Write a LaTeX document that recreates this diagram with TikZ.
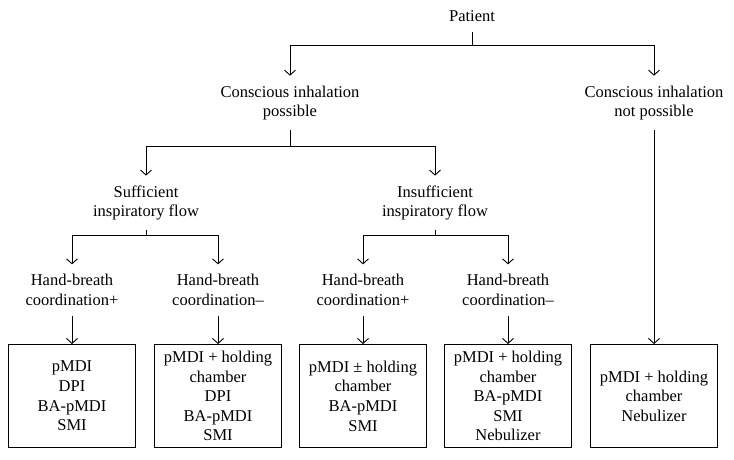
\documentclass[tikz,border=0pt]{standalone}
\usepackage{fontspec}
\setmainfont{Liberation Serif}
\usetikzlibrary{arrows.meta}
\begin{document}
\begin{tikzpicture}[x=1pt,y=-1pt,
  every node/.style={font=\fontsize{16.5}{19.6}\selectfont},
  lbl/.style={align=center, inner sep=0pt, outer ysep=10pt},
  res/.style={draw, line width=0.9pt, align=center, minimum width=127pt, minimum height=103pt, inner sep=1pt},
  conn/.style={line width=0.9pt},
  arr/.style={conn, -{Straight Barb[length=5pt,width=11pt,line width=0.9pt]}}]
\useasboundingbox (0,0) rectangle (734,460);
% labels
\node[lbl] (pat) at (472,16) {Patient};
\node[lbl] (cip) at (290,103) {Conscious inhalation\\possible};
\node[lbl] (cinp) at (654,103) {Conscious inhalation\\not possible};
\node[lbl] (suf) at (146,203) {Sufficient\\inspiratory flow};
\node[lbl] (ins) at (435,203) {Insufficient\\inspiratory flow};
\node[lbl] (h1) at (72,290) {Hand-breath\\coordination+};
\node[lbl] (h2) at (218,290) {Hand-breath\\coordination\textendash};
\node[lbl] (h3) at (363,290) {Hand-breath\\coordination+};
\node[lbl] (h4) at (508,290) {Hand-breath\\coordination\textendash};
% result boxes
\node[res] (b1) at (72,396) {pMDI\\DPI\\BA-pMDI\\SMI};
\node[res] (b2) at (218,396) {pMDI + holding\\chamber\\DPI\\BA-pMDI\\SMI};
\node[res] (b3) at (363,396) {pMDI ± holding\\chamber\\BA-pMDI\\SMI};
\node[res] (b4) at (508,396) {pMDI + holding\\chamber\\BA-pMDI\\SMI\\Nebulizer};
\node[res] (b5) at (654,396) {pMDI + holding\\chamber\\Nebulizer};
% junctions
\coordinate (j1) at (472,45);
\coordinate (j2) at (290,146);
\coordinate (j3) at (146,235);
\coordinate (j4) at (435,235);
% connectors
\draw[conn] (pat) -- (j1);
\draw[arr] (j1) -| (cip);
\draw[arr] (j1) -| (cinp);
\draw[conn] (cip) -- (j2);
\draw[arr] (j2) -| (suf);
\draw[arr] (j2) -| (ins);
\draw[conn] (suf) -- (j3);
\draw[arr] (j3) -| (h1);
\draw[arr] (j3) -| (h2);
\draw[conn] (ins) -- (j4);
\draw[arr] (j4) -| (h3);
\draw[arr] (j4) -| (h4);
\draw[arr] (h1) -- (b1);
\draw[arr] (h2) -- (b2);
\draw[arr] (h3) -- (b3);
\draw[arr] (h4) -- (b4);
\draw[arr] (cinp) -- (b5);
\end{tikzpicture}
\end{document}
